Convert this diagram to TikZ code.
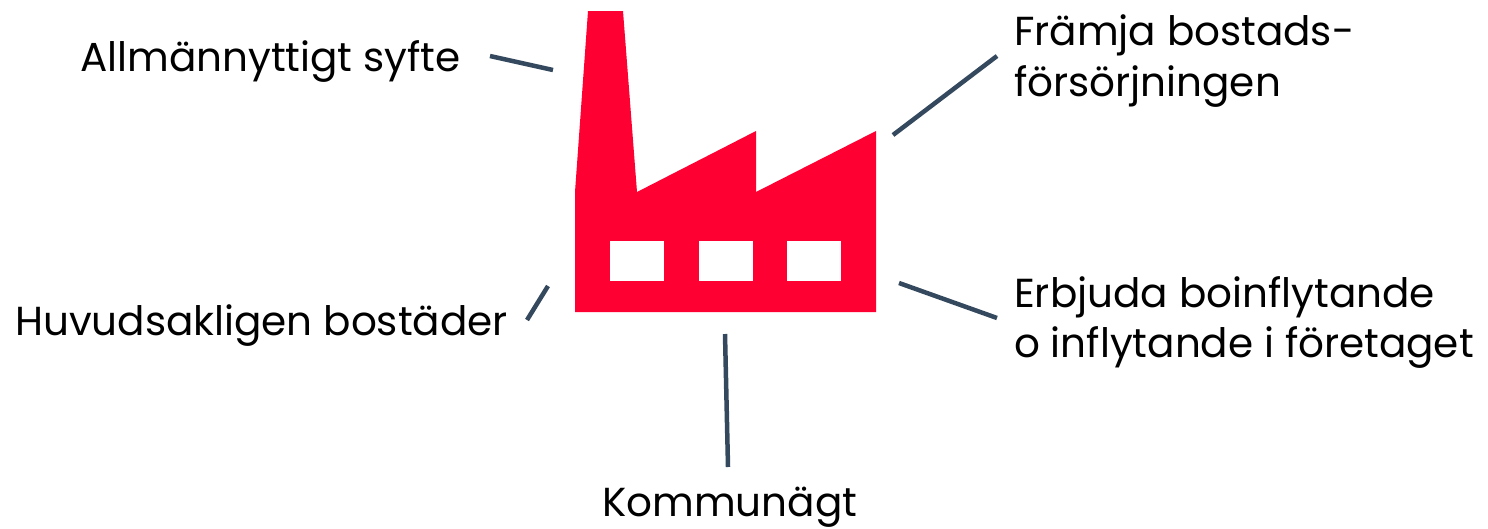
\documentclass[tikz,border=0pt]{standalone}
\usepackage{fontspec}
\setmainfont{Poppins}
\definecolor{factoryred}{HTML}{FF0033}
\definecolor{leadblue}{HTML}{34495E}
\tikzset{
  lbl/.style={anchor=base west,inner sep=0pt,align=left,text=black,font=\fontsize{40.5}{51}\selectfont},
  lead/.style={draw=leadblue,line width=4.5pt}
}
\begin{document}
\begin{tikzpicture}[x=1pt,y=-1pt]
\useasboundingbox (0,0) rectangle (1488,528);
% factory
\fill[factoryred] (588,11) -- (623,11) -- (637,192) -- (756,131) -- (756,192) -- (876,131) -- (876,312) -- (575,312) -- (575,192) -- cycle;
\foreach \x in {610,699,787} \fill[white] (\x,241) rectangle (\x+53.5,281);
% labels
\node[lbl] (syfte) at (80,71) {Allmännyttigt syfte};
\node[lbl] (bostader) at (15,335) {Huvudsakligen bostäder};
\node[lbl] (framja) at (1014,45) {Främja bostads-};
\node[lbl] (forsorjning) at (1014,96) {försörjningen};
\node[lbl] (erbjuda) at (1014,307) {Erbjuda boinflytande};
\node[lbl] (inflytande) at (1014,357) {o inflytande i företaget};
\node[lbl] (kommun) at (602,516) {Kommunägt};
% leaders
\coordinate (a1) at (490,56);  \coordinate (a2) at (553,70);
\coordinate (b1) at (997,56);  \coordinate (b2) at (893,135);
\coordinate (c1) at (548,286); \coordinate (c2) at (527,320);
\coordinate (d1) at (899,283); \coordinate (d2) at (997,318);
\coordinate (e1) at (725,334); \coordinate (e2) at (728,467);
\foreach \p/\q in {a1/a2,b1/b2,c1/c2,d1/d2,e1/e2} \draw[lead] (\p) -- (\q);
\end{tikzpicture}
\end{document}
